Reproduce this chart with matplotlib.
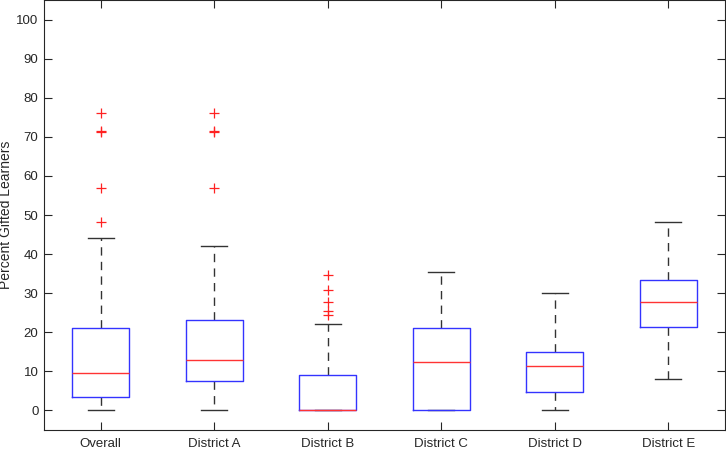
import matplotlib
matplotlib.use("Agg")
import matplotlib.pyplot as plt

plt.rcParams['font.family'] = ['Liberation Sans', 'DejaVu Sans']

# 박스플롯 요약값
labels = ["Overall", "District A", "District B", "District C", "District D", "District E"]
whislo = [0, 0, 0, 0, 0, 8.0]
q1 = [3.5, 7.5, 0, 0, 4.6, 21.4]
med = [9.6, 12.9, 0, 12.5, 11.4, 27.8]
q3 = [21.1, 23.1, 9.1, 21.0, 15.0, 33.3]
whishi = [44.1, 42.1, 22.2, 35.4, 30.0, 48.1]
fliers = [
    [48.1, 56.8, 71.2, 71.4, 76.0],
    [56.8, 71.2, 71.4, 76.0],
    [24.3, 25.4, 27.8, 30.9, 34.6],
    [],
    [],
    [],
]

stats = []
for i in range(len(labels)):
    stats.append({"label": labels[i], "whislo": whislo[i], "q1": q1[i], "med": med[i],
                  "q3": q3[i], "whishi": whishi[i], "fliers": fliers[i]})

fig = plt.figure(figsize=(7.26, 4.49), dpi=100)
ax = fig.add_axes([44 / 726, 19 / 449, 681 / 726, 430 / 449])

dash = (0, (6, 4.5))
ax.bxp(stats, widths=0.5, showfliers=True,
       boxprops=dict(color="#3333ff", linewidth=1.0, zorder=3),
       medianprops=dict(color="#ff3333", linewidth=1.0, zorder=4),
       whiskerprops=dict(color="#333333", linewidth=1.0, linestyle=dash, zorder=2),
       capprops=dict(color="#333333", linewidth=1.0, zorder=2),
       capwidths=0.23,
       flierprops=dict(marker="+", markeredgecolor="#ff2222", markersize=7, markeredgewidth=0.9,
                       linestyle="none"))

ax.set_xlim(0.5, 6.5)
ax.set_ylim(-5, 105)
ax.set_yticks(range(0, 101, 10))
ax.set_ylabel("Percent Gifted Learners", fontsize=10, color="#262626")
ax.yaxis.set_label_coords(-0.046, 0.5)

for s in ax.spines.values():
    s.set_color("#262626")
    s.set_linewidth(0.8)
ax.tick_params(axis="both", direction="in", length=6, width=0.8, color="#262626",
               labelsize=9.5, labelcolor="#262626", top=True, right=True)
ax.tick_params(axis="y", pad=4)
ax.tick_params(axis="x", pad=6)

fig.savefig("out.png", dpi=100)
